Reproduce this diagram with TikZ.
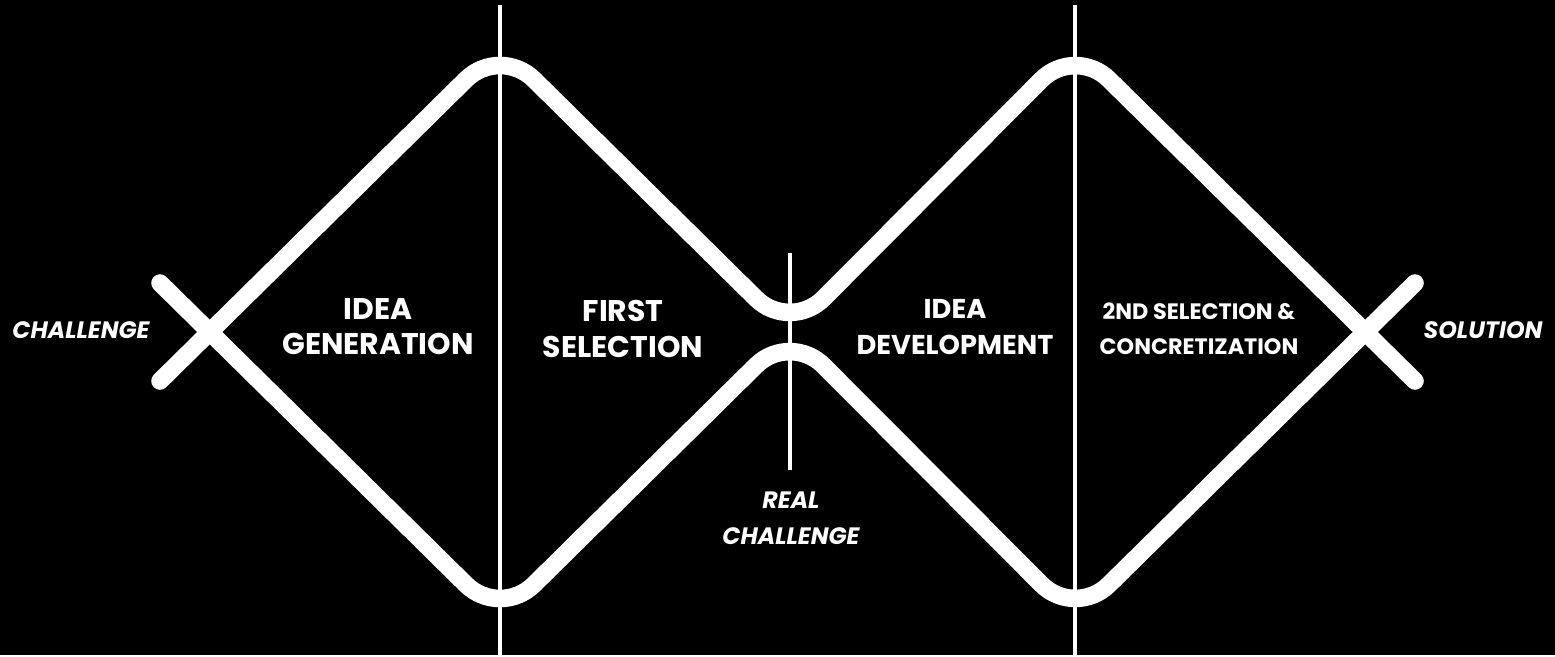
\documentclass[tikz,border=0pt]{standalone}
\usepackage{fontspec}
\setmainfont{Poppins}
\begin{document}
\begin{tikzpicture}
  [
    x=0.02cm, y=-0.02cm,
    wave/.style={draw=white, line width=10pt, line cap=round, rounded corners=27pt},
    rule/.style={draw=white, line width=2.2pt},
    phase/.style={text=white, font=\bfseries\fontsize{17}{20}\selectfont, align=center, inner sep=0pt},
    side/.style={text=white, font=\bfseries\itshape\fontsize{13.5}{20.5}\selectfont, align=center, inner sep=0pt}
  ]
  \fill[black] (0,0) rectangle (1555,655);

  % crossings, peaks and the pinch
  \coordinate (start) at (210,332);
  \coordinate (finish) at (1365,332);
  \coordinate (pinch) at (790,332);
  \coordinate (peakA) at (500,46);
  \coordinate (dipA) at (500,618);
  \coordinate (peakB) at (1075,46);
  \coordinate (dipB) at (1075,618);
  \coordinate (armSW) at (160,381);
  \coordinate (armNW) at (160,283);
  \coordinate (armNE) at (1415,283);
  \coordinate (armSE) at (1415,381);

  % vertical rules
  \coordinate (ruleA1) at (500,5);
  \coordinate (ruleA2) at (500,655);
  \coordinate (ruleB1) at (1075,5);
  \coordinate (ruleB2) at (1075,655);
  \coordinate (ruleM1) at (790,253);
  \coordinate (ruleM2) at (790,470);
  \draw[rule] (ruleA1) -- (ruleA2);
  \draw[rule] (ruleB1) -- (ruleB2);
  \draw[rule] (ruleM1) -- (ruleM2);

  % the double diamond
  \draw[wave] (armSW) -- (peakA) -- (pinch) -- (peakB) -- (armSE);
  \draw[wave] (armNW) -- (dipA) -- (pinch) -- (dipB) -- (armNE);

  \node[phase] (gen) at (378,327) {IDEA\\GENERATION};
  \node[phase] (sel) at (623,329) {FIRST\\SELECTION};
  \node[phase, font=\bfseries\fontsize{15.5}{20}\selectfont] (dev) at (955,327) {IDEA\\DEVELOPMENT};
  \node[phase, font=\bfseries\fontsize{12.7}{20}\selectfont] (conc) at (1199,329) {2ND SELECTION \&\\CONCRETIZATION};
  \node[side] (chal) at (81,330) {CHALLENGE};
  \node[side] (sol) at (1483,330) {SOLUTION};
  \node[side] (real) at (791,518) {REAL\\CHALLENGE};
\end{tikzpicture}
\end{document}
